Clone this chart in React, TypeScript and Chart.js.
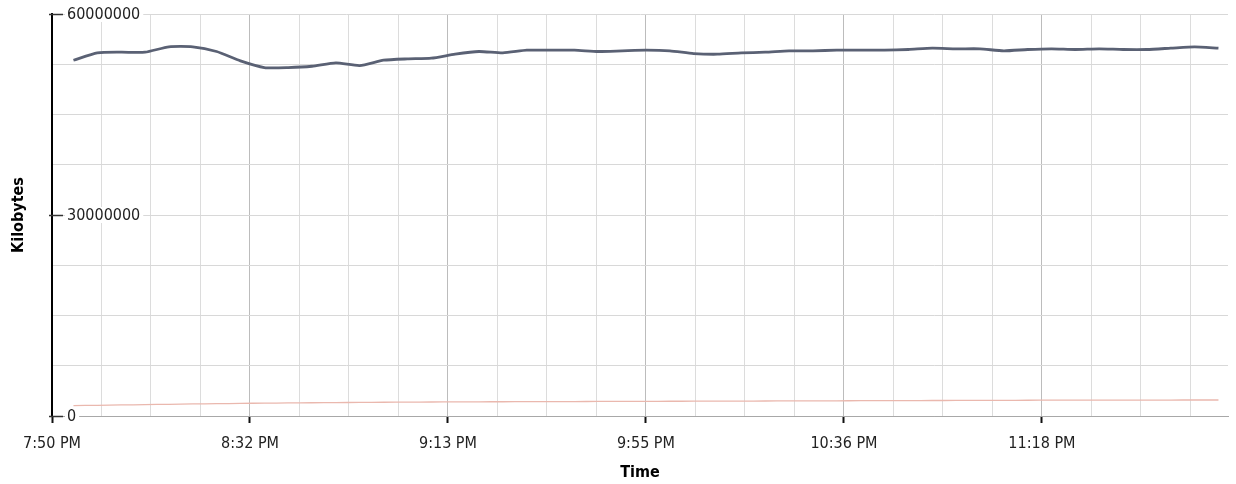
import { useEffect, useRef } from 'react';
import { Chart, registerables } from 'chart.js';

Chart.register(...registerables);

const FONT = "'DejaVu Sans Condensed', 'DejaVu Sans', sans-serif";

// x axis: minutes after 7:50 PM
const X_TICK_LABELS = ['7:50 PM', '8:32 PM', '9:13 PM', '9:55 PM', '10:36 PM', '11:18 PM'];
const X_TICK_MINUTES = [0.5, 42, 83.5, 125, 166.5, 208];
const X_MINOR_PER_MAJOR = 4;
const X_MIN = 0.5;
const X_MAX = 247;

// samples every 5 minutes starting 7:55 PM
const SAMPLE_START_MIN = 5;
const SAMPLE_INTERVAL_MIN = 5;

const SERIES_MAIN = [
  53100000, 54200000, 54300000, 54300000, 55100000, 55100000, 54400000, 53000000,
  52000000, 52000000, 52200000, 52700000, 52300000, 53100000, 53300000, 53400000,
  54000000, 54400000, 54200000, 54600000, 54600000, 54600000, 54400000, 54500000,
  54600000, 54500000, 54100000, 54000000, 54200000, 54300000, 54500000, 54500000,
  54600000, 54600000, 54600000, 54700000, 54900000, 54800000, 54800000, 54500000,
  54700000, 54800000, 54700000, 54800000, 54700000, 54700000, 54900000, 55100000,
  54900000,
];

const SERIES_LOW = [
  1550000, 1600000, 1650000, 1700000, 1750000, 1800000, 1840000, 1880000,
  1920000, 1950000, 1980000, 2000000, 2030000, 2050000, 2070000, 2090000,
  2100000, 2120000, 2130000, 2140000, 2150000, 2160000, 2170000, 2180000,
  2190000, 2200000, 2210000, 2220000, 2230000, 2240000, 2250000, 2260000,
  2270000, 2280000, 2290000, 2300000, 2310000, 2320000, 2330000, 2340000,
  2350000, 2360000, 2360000, 2370000, 2370000, 2380000, 2380000, 2390000,
  2390000,
];

const Y_LABEL_VALUES = [0, 30000000, 60000000];
const Y_GRID_STEP = 7500000;
const Y_MIN = 0;
const Y_MAX = 60000000;

const X_TITLE = 'Time';
const Y_TITLE = 'Kilobytes';

const toPoints = (vals: number[]) =>
  vals.map((v, i) => ({ x: SAMPLE_START_MIN + i * SAMPLE_INTERVAL_MIN, y: v }));

const yLabelPlugin = {
  id: 'yLabelsInside',
  afterDatasetsDraw(chart: any) {
    const { ctx, chartArea } = chart;
    const y = chart.scales.y;
    ctx.save();
    ctx.font = `16px ${FONT}`;
    ctx.textBaseline = 'middle';
    ctx.textAlign = 'left';
    for (const v of Y_LABEL_VALUES) {
      const py = y.getPixelForValue(v);
      const text = String(v);
      const w = ctx.measureText(text).width;
      const tx = chartArea.left + 15;
      ctx.fillStyle = '#ffffff';
      ctx.fillRect(tx - 2, py - 8, w + 5, 16);
      ctx.strokeStyle = '#333333';
      ctx.lineWidth = 1.5;
      ctx.beginPath();
      ctx.moveTo(chartArea.left - 3, Math.round(py) + 0.5);
      ctx.lineTo(chartArea.left + 11, Math.round(py) + 0.5);
      ctx.stroke();
      ctx.fillStyle = '#222222';
      ctx.fillText(text, tx, py + 1);
    }
    ctx.restore();
  },
};

export default function App() {
  const ref = useRef<HTMLCanvasElement | null>(null);

  useEffect(() => {
    if (!ref.current) return;
    const chart = new Chart(ref.current, {
      type: 'line',
      data: {
        datasets: [
          {
            data: toPoints(SERIES_MAIN),
            borderColor: '#5a6174',
            borderWidth: 2.8,
            pointRadius: 0,
            tension: 0.2,
            fill: false,
          },
          {
            data: toPoints(SERIES_LOW),
            borderColor: '#eab8ae',
            borderWidth: 1.3,
            pointRadius: 0,
            tension: 0.2,
            fill: false,
          },
        ],
      },
      options: {
        animation: false,
        responsive: false,
        devicePixelRatio: 1,
        layout: { padding: { top: 14, right: 8, left: 0, bottom: 0 } },
        plugins: {
          legend: { display: false },
          tooltip: { enabled: false },
        },
        scales: {
          x: {
            type: 'linear',
            min: X_MIN,
            max: X_MAX,
            afterBuildTicks: (scale: any) => {
              const step = (X_TICK_MINUTES[1] - X_TICK_MINUTES[0]) / X_MINOR_PER_MAJOR;
              const ticks: { value: number }[] = [];
              for (let v = X_TICK_MINUTES[0]; v <= X_MAX + 1e-6; v += step) ticks.push({ value: v });
              scale.ticks = ticks;
            },
            afterFit: (scale: any) => {
              scale.height = 68;
            },
            ticks: {
              autoSkip: false,
              maxRotation: 0,
              minRotation: 0,
              padding: 11,
              color: '#222222',
              font: { family: FONT, size: 16 },
              callback: (_v: any, index: number) =>
                index % X_MINOR_PER_MAJOR === 0 ? X_TICK_LABELS[index / X_MINOR_PER_MAJOR] ?? '' : '',
            },
            grid: {
              color: (c: any) => (c.index % X_MINOR_PER_MAJOR === 0 ? '#bcbcbc' : '#dcdcdc'),
              lineWidth: 1,
              drawTicks: true,
              tickLength: 7,
              tickWidth: 2,
              tickColor: (c: any) => (c.index % X_MINOR_PER_MAJOR === 0 ? '#111111' : 'rgba(0,0,0,0)'),
            },
            border: { display: true, color: '#a8a8a8', width: 1 },
            title: {
              display: true,
              text: X_TITLE,
              color: '#000000',
              font: { family: FONT, size: 16, weight: 'bold' },
              padding: { top: 0, bottom: 2 },
            },
          },
          y: {
            type: 'linear',
            min: Y_MIN,
            max: Y_MAX,
            afterFit: (scale: any) => {
              scale.width = 52;
            },
            ticks: { display: false, stepSize: Y_GRID_STEP },
            grid: {
              color: (c: any) => (c.tick && c.tick.value === 0 ? '#a8a8a8' : '#d8d8d8'),
              lineWidth: 1,
              drawTicks: false,
            },
            border: { display: true, color: '#000000', width: 2 },
            title: {
              display: true,
              text: Y_TITLE,
              color: '#000000',
              font: { family: FONT, size: 16, weight: 'bold' },
              padding: { top: 9, bottom: 0 },
            },
          },
        },
      } as any,
      plugins: [yLabelPlugin],
    });
    return () => chart.destroy();
  }, []);

  return (
    <div style={{ position: 'fixed', left: 0, top: 0, width: 1236, height: 484, background: '#fff' }}>
      <canvas ref={ref} width={1236} height={484} style={{ display: 'block' }} />
    </div>
  );
}
